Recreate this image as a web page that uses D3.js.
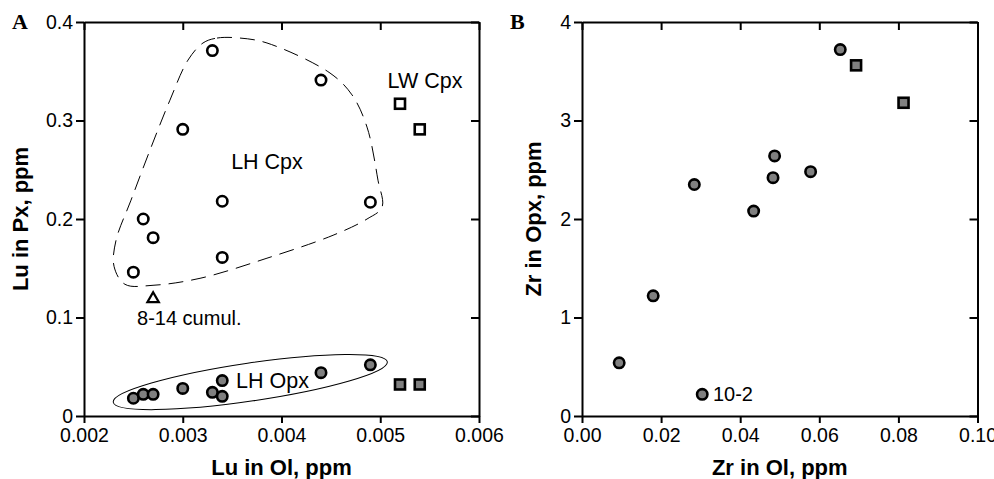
<!DOCTYPE html>
<html lang="en">
<head>
<meta charset="UTF-8">
<title>Lu and Zr in Ol vs Px</title>
<style type="text/css">
    body { margin:0; background:#fff; }
    svg text { font-family: "Liberation Sans", Arial, sans-serif; fill:#000; }
    .axis text { font-size:19.5px; }
    .axis path, .axis line { stroke:#000; }
    .title { font-size:22px; font-weight:bold; }
    svg text.panel { font-family:"Liberation Serif", "Times New Roman", serif; font-size:22px; font-weight:bold; }
    .note { font-size:21.5px; }
    .note.small { font-size:20px; }
</style>
</head>
<body>
<script src="https://d3js.org/d3.v7.min.js"></script>
<script>
    // panel A: Lu, open = Cpx, grey = Opx
    var luOlLhCpx = [0.0033, 0.0044, 0.0030, 0.0034, 0.0049, 0.0026, 0.0027, 0.0025, 0.0034];
    var luPxLhCpx = [0.371, 0.341, 0.291, 0.218, 0.217, 0.200, 0.181, 0.146, 0.161];
    var luOlLwCpx = [0.0052, 0.0054];
    var luPxLwCpx = [0.317, 0.291];
    var luOlCumul = [0.0027];
    var luPxCumul = [0.119];
    var luOlLhOpx = [0.0025, 0.0026, 0.0027, 0.0030, 0.0033, 0.0034, 0.0034, 0.0044, 0.0049];
    var luPxLhOpx = [0.018, 0.022, 0.022, 0.028, 0.024, 0.036, 0.020, 0.044, 0.052];
    var luOlLwOpx = [0.0052, 0.0054];
    var luPxLwOpx = [0.032, 0.032];

    // panel B: Zr
    var zrOlLh = [0.0653, 0.0487, 0.0483, 0.0578, 0.0284, 0.0434, 0.0180, 0.0094, 0.0304];
    var zrOpxLh = [3.72, 2.64, 2.42, 2.48, 2.35, 2.08, 1.22, 0.54, 0.22];
    var zrOlLw = [0.0693, 0.0813];
    var zrOpxLw = [3.56, 3.18];

    var luOlTicks = [0.002, 0.003, 0.004, 0.005, 0.006];
    var luPxTicks = [0, 0.1, 0.2, 0.3, 0.4];
    var zrOlTicks = [0, 0.02, 0.04, 0.06, 0.08, 0.10];
    var zrOpxTicks = [0, 1, 2, 3, 4];

    // dashed outline round LH Cpx, in data units
    var hullOl = [0.003205, 0.003347, 0.00358, 0.003853, 0.004491, 0.004714, 0.004866, 0.004977, 0.005018,
                  0.004866, 0.004522, 0.003853, 0.003175, 0.002699, 0.002415, 0.002304, 0.002324, 0.002476,
                  0.002668, 0.00287, 0.003053];
    var hullPx = [0.3787, 0.3837, 0.3837, 0.3787, 0.3482, 0.326, 0.2933, 0.2394, 0.212,
                  0.200, 0.1835, 0.1602, 0.1398, 0.1327, 0.1337, 0.152, 0.1782, 0.2191,
                  0.2699, 0.3206, 0.3613];

    var width = 994, height = 479,
        plotTop = 22, plotBottom = 416,
        svg = d3.select('body').append('svg')
                .attr('width', width)
                .attr('height', height);

    var grey = '#808080';

    function zip(a, b) { return a.map(function(d, i){ return [d, b[i]]; }); }

    function panel(x, y, xTicks, yTicks, xFmt, yFmt, xTitle, yTitle, letter, titleX) {
        var g = svg.append('g');
        g.append('g')
            .attr('class', 'axis')
            .attr('transform', 'translate(0,' + plotBottom + ')')
            .call(d3.axisBottom(x).tickValues(xTicks).tickFormat(xFmt).tickSize(7).tickSizeOuter(0).tickPadding(5))
            .selectAll('path, line').attr('stroke-width', 2);
        g.append('g')
            .attr('class', 'axis')
            .attr('transform', 'translate(' + x.range()[0] + ',0)')
            .call(d3.axisLeft(y).tickValues(yTicks).tickFormat(yFmt).tickSize(8).tickSizeOuter(0).tickPadding(3))
            .selectAll('path, line').attr('stroke-width', 2);
        g.append('g')
            .attr('class', 'axis')
            .attr('transform', 'translate(0,' + plotTop + ')')
            .call(d3.axisTop(x).tickValues(xTicks).tickFormat('').tickSize(-8).tickSizeOuter(0))
            .selectAll('path, line').attr('stroke-width', 2);
        g.append('g')
            .attr('class', 'axis')
            .attr('transform', 'translate(' + x.range()[1] + ',0)')
            .call(d3.axisRight(y).tickValues(yTicks).tickFormat('').tickSize(-8).tickSizeOuter(0))
            .selectAll('path, line').attr('stroke-width', 2);

        var cx = (x.range()[0] + x.range()[1]) / 2;
        g.append('text').attr('class', 'title')
            .attr('x', cx).attr('y', 475)
            .attr('text-anchor', 'middle')
            .text(xTitle);
        g.append('text').attr('class', 'title')
            .attr('transform', 'translate(' + titleX + ',' + ((plotTop + plotBottom) / 2) + ') rotate(-90)')
            .attr('text-anchor', 'middle')
            .text(yTitle);
        g.append('text').attr('class', 'panel')
            .attr('x', x.range()[0] - 72).attr('y', 29)
            .text(letter);
        return g;
    }

    function circles(g, x, y, pts, fill) {
        g.selectAll(null)
            .data(pts)
            .enter().append('circle')
            .attr('cx', function(d){ return x(d[0]); })
            .attr('cy', function(d){ return y(d[1]); })
            .attr('r', 5.2)
            .attr('fill', fill)
            .attr('stroke', '#000')
            .attr('stroke-width', 2.6);
    }

    function squares(g, x, y, pts, fill) {
        g.selectAll(null)
            .data(pts)
            .enter().append('rect')
            .attr('x', function(d){ return x(d[0]) - 5; })
            .attr('y', function(d){ return y(d[1]) - 5; })
            .attr('width', 10)
            .attr('height', 10)
            .attr('fill', fill)
            .attr('stroke', '#000')
            .attr('stroke-width', 2.6);
    }

    // ---- panel A
    var xA = d3.scaleLinear().domain([0.002, 0.006]).range([84, 479]);
    var yA = d3.scaleLinear().domain([0, 0.4]).range([plotBottom, plotTop]);
    var gA = panel(xA, yA, luOlTicks, luPxTicks, d3.format('.3f'), function(d){ return d === 0 ? '0' : d3.format('.1f')(d); },
                   'Lu in Ol, ppm', 'Lu in Px, ppm', 'A', 28);

    gA.append('path')
        .datum(zip(hullOl, hullPx))
        .attr('d', d3.line()
            .x(function(d){ return xA(d[0]); })
            .y(function(d){ return yA(d[1]); })
            .curve(d3.curveCatmullRomClosed.alpha(0.5)))
        .attr('fill', 'none')
        .attr('stroke', '#000')
        .attr('stroke-width', 1)
        .attr('stroke-dasharray', '15,8');

    var ellC = [0.003684, 0.0345];
    gA.append('ellipse')
        .attr('transform', 'translate(' + xA(ellC[0]) + ',' + yA(ellC[1]) + ') rotate(-8.4)')
        .attr('rx', 138.5)
        .attr('ry', 19)
        .attr('fill', 'none')
        .attr('stroke', '#000')
        .attr('stroke-width', 1);

    circles(gA, xA, yA, zip(luOlLhCpx, luPxLhCpx), '#fff');
    squares(gA, xA, yA, zip(luOlLwCpx, luPxLwCpx), '#fff');
    circles(gA, xA, yA, zip(luOlLhOpx, luPxLhOpx), grey);
    squares(gA, xA, yA, zip(luOlLwOpx, luPxLwOpx), grey);

    gA.selectAll(null)
        .data(zip(luOlCumul, luPxCumul))
        .enter().append('path')
        .attr('transform', function(d){ return 'translate(' + xA(d[0]) + ',' + yA(d[1]) + ')'; })
        .attr('d', d3.symbol().type(d3.symbolTriangle).size(55))
        .attr('fill', '#fff')
        .attr('stroke', '#000')
        .attr('stroke-width', 2.3);

    var notesA = [
        { t: 'LH Cpx', x: 0.003853, y: 0.2585, a: 'middle', c: 'note' },
        { t: 'LW Cpx', x: 0.005453, y: 0.341, a: 'middle', c: 'note' },
        { t: '8-14 cumul.', x: 0.002537, y: 0.0992, a: 'start', c: 'note small' },
        { t: 'LH Opx', x: 0.00354, y: 0.0362, a: 'start', c: 'note' }
    ];
    gA.selectAll(null)
        .data(notesA)
        .enter().append('text')
        .attr('class', function(d){ return d.c; })
        .attr('x', function(d){ return xA(d.x); })
        .attr('y', function(d){ return yA(d.y); })
        .attr('dy', '0.35em')
        .attr('text-anchor', function(d){ return d.a; })
        .text(function(d){ return d.t; });

    // ---- panel B
    var xB = d3.scaleLinear().domain([0, 0.1]).range([582, 977.5]);
    var yB = d3.scaleLinear().domain([0, 4]).range([plotBottom, plotTop]);
    var gB = panel(xB, yB, zrOlTicks, zrOpxTicks, d3.format('.2f'), d3.format('d'),
                   'Zr in Ol, ppm', 'Zr in Opx, ppm', 'B', 541);

    circles(gB, xB, yB, zip(zrOlLh, zrOpxLh), grey);
    squares(gB, xB, yB, zip(zrOlLw, zrOpxLw), grey);

    gB.append('text')
        .attr('class', 'note small')
        .attr('x', xB(0.0331))
        .attr('y', yB(0.228))
        .attr('dy', '0.35em')
        .text('10-2');
</script>
</body>
</html>
